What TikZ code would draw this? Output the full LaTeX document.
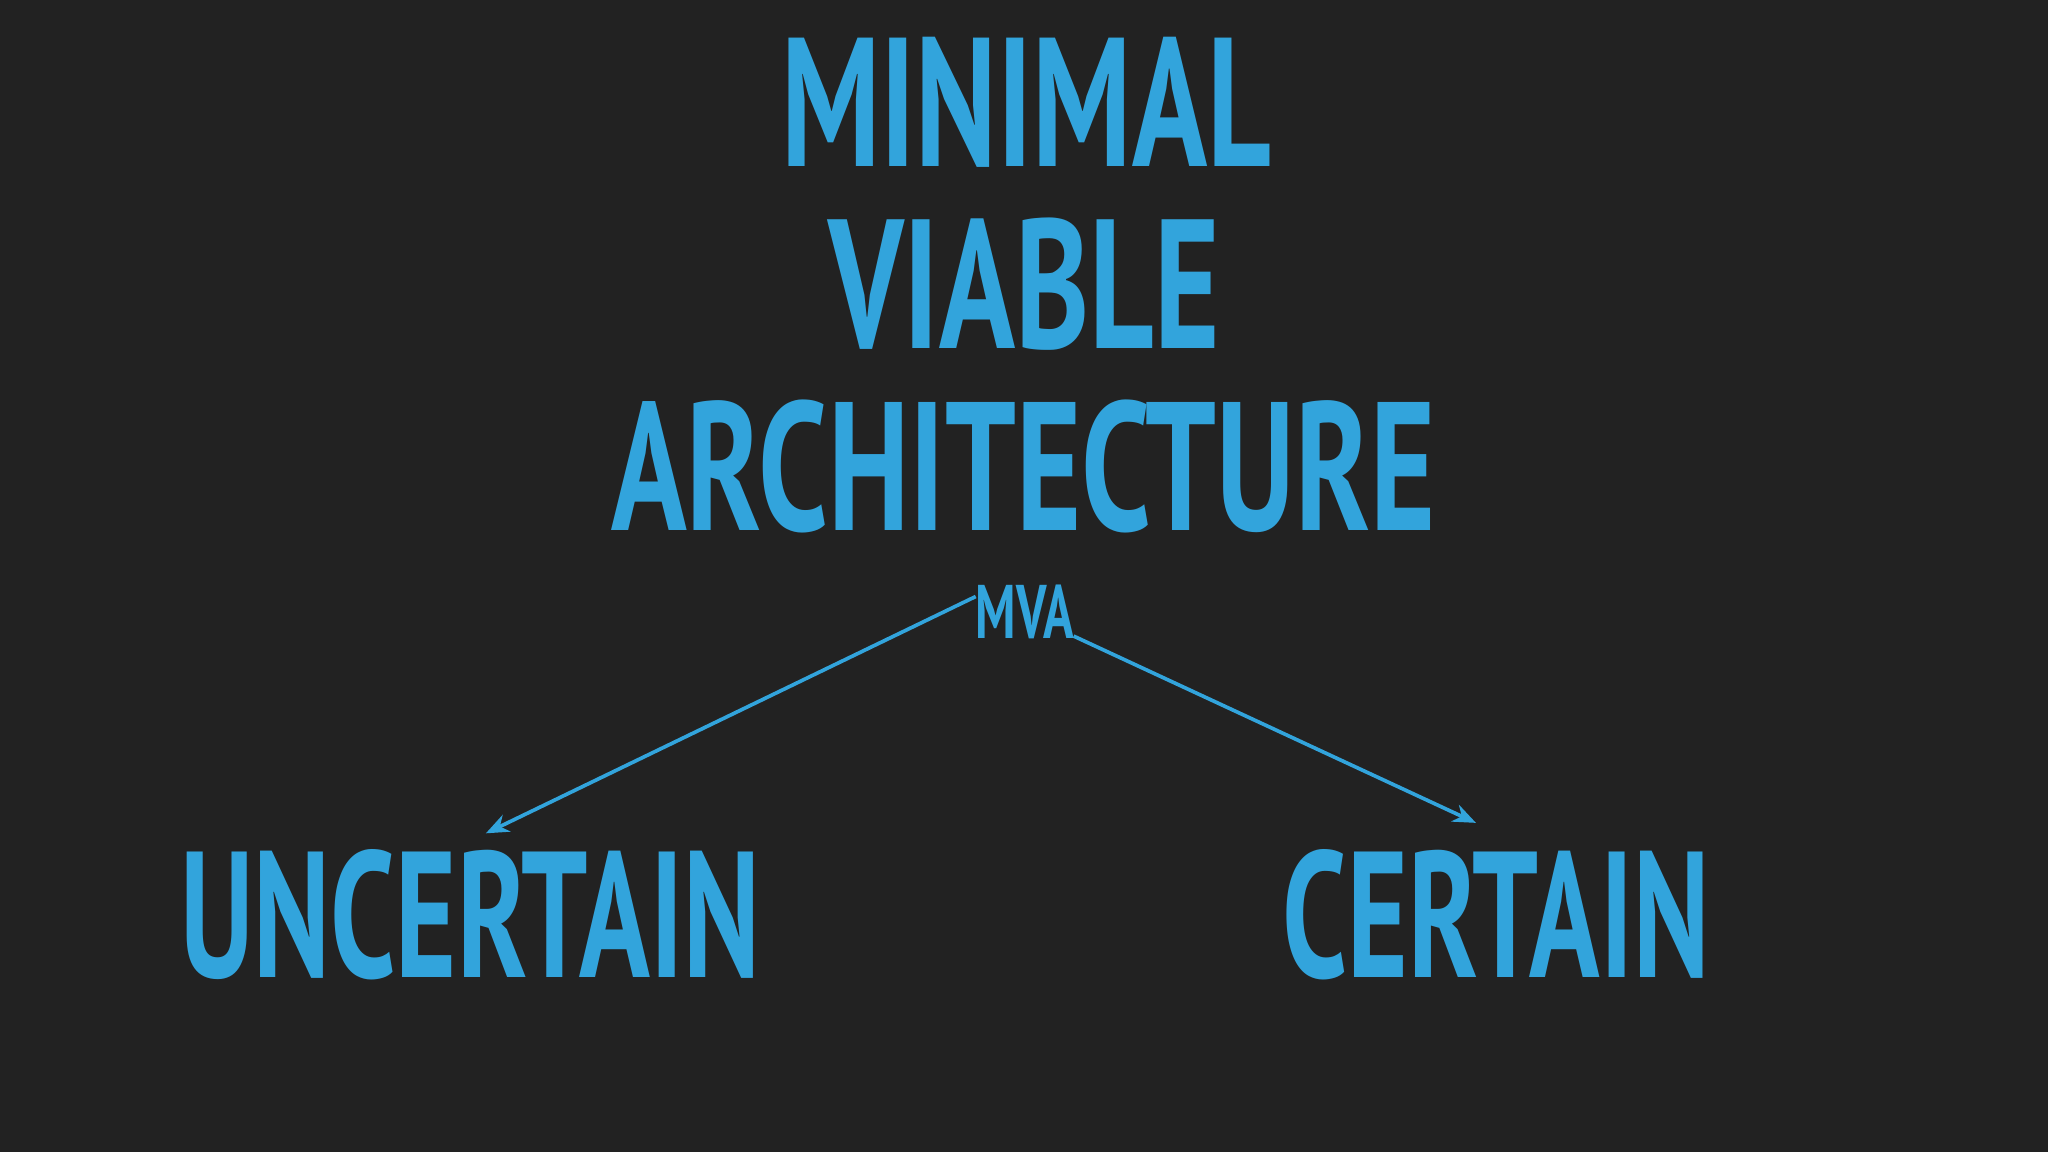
\documentclass[tikz,border=0pt]{standalone}
\usepackage{fontspec}
\setmainfont{PT Sans}
\usetikzlibrary{arrows.meta}
\definecolor{bg}{HTML}{222222}
\definecolor{blu}{HTML}{32A4DC}
\newcommand{\fitword}[3]{\resizebox{#1cm}{#2cm}{\bfseries #3}}
\tikzset{word/.style={inner sep=0pt,outer sep=0pt,anchor=south west,text=blu},
 link/.style={draw=blu,line width=0.8pt,-{Stealth[length=5pt,width=4pt]}}}
\begin{document}
\begin{tikzpicture}
\fill[bg] (0,0) rectangle (15.68,8.82);
\useasboundingbox (0,0) rectangle (15.68,8.82);
\node[word] (t1) at (5.98,8.82-1.28) {\fitword{3.75}{0.99}{MINIMAL}};
\node[word] (t2) at (6.34,8.82-2.68) {\fitword{3.00}{1.00}{VIABLE}};
\node[word] (t3) at (4.68,8.82-4.08) {\fitword{6.31}{1.00}{ARCHITECTURE}};
\node[word] (mva) at (7.47,8.82-4.89) {\fitword{0.75}{0.41}{MVA}};
\node[word] (unc) at (1.38,8.82-7.50) {\fitword{4.44}{0.98}{UNCERTAIN}};
\node[word] (cer) at (9.82,8.82-7.50) {\fitword{3.27}{0.98}{CERTAIN}};
\coordinate (a1) at (3.72,8.82-6.38);
\coordinate (a2) at (11.30,8.82-6.30);
\draw[link] ([yshift=-0.09cm]mva.north west) -- (a1);
\draw[link] ([yshift=0.02cm]mva.south east) -- (a2);
\end{tikzpicture}
\end{document}
